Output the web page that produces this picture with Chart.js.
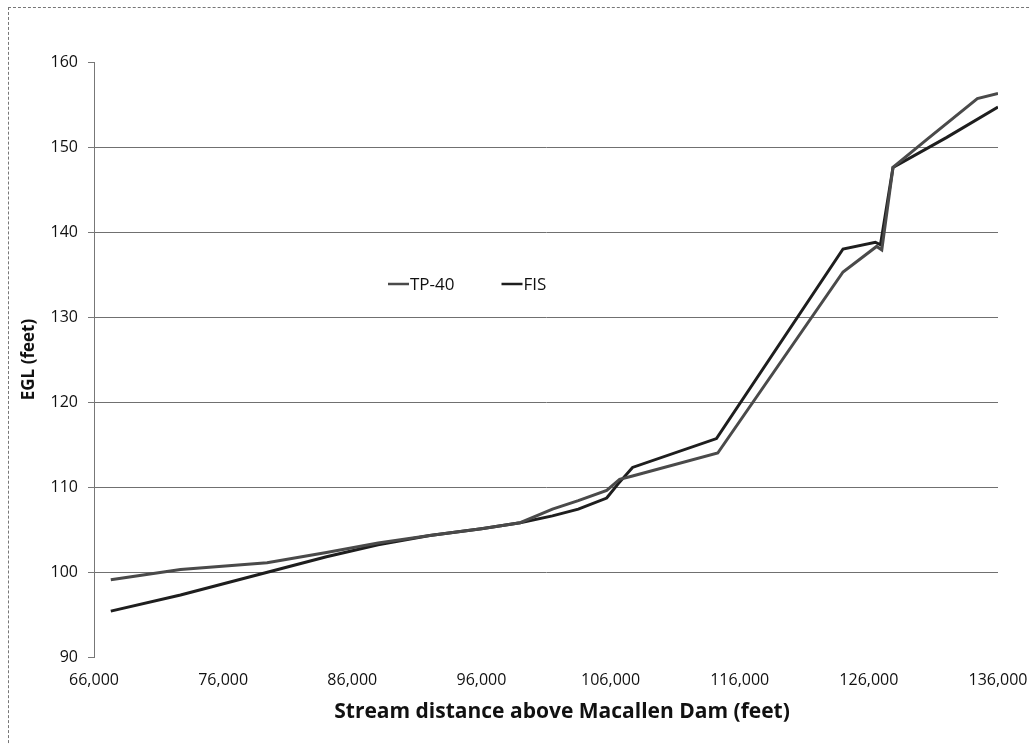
<!DOCTYPE html>
<html>
<head>
<meta charset="utf-8">
<script src="https://cdn.jsdelivr.net/npm/chart.js@4.4.1/dist/chart.umd.min.js"></script>
<style>
  html, body { margin: 0; padding: 0; background: #fff; }
  #wrap { position: relative; width: 1030px; height: 744px; }
  #frame { position: absolute; left: 8px; top: 7px; width: 1040px; height: 760px;
           border-left: 1px dashed #777; border-top: 1px dashed #777; }
  canvas { position: absolute; left: 0; top: 0; }
</style>
</head>
<body>
<div id="wrap">
  <div id="frame"></div>
  <canvas id="c" width="1030" height="744"></canvas>
</div>
<script>
// Stream distance (feet) and energy grade line elevation (feet) for each profile
const tp40Distance = [67300, 72700, 79400, 84000, 88000, 92000, 96000, 99000, 101500, 103500, 105700, 106700, 107700, 114300, 124000, 126600, 127000, 127870, 130500, 134400, 136000];
const tp40Egl      = [99.1, 100.3, 101.1, 102.3, 103.4, 104.3, 105.1, 105.8, 107.4, 108.4, 109.6, 110.9, 111.3, 114.0, 135.3, 138.3, 137.9, 147.6, 150.9, 155.7, 156.3];

const fisDistance = [67300, 72700, 79500, 84000, 88000, 92000, 96000, 99000, 101500, 103500, 105700, 106600, 107700, 114200, 124000, 126500, 126900, 127870, 132000, 136000];
const fisEgl      = [95.4, 97.3, 100.0, 101.8, 103.2, 104.3, 105.1, 105.8, 106.6, 107.4, 108.7, 110.4, 112.3, 115.7, 138.0, 138.8, 138.5, 147.6, 151.1, 154.7];

const seriesNames = ['TP-40', 'FIS'];
const xTicks = { min: 66000, max: 136000, step: 10000 };
const yTicks = { min: 90, max: 160, step: 10 };
const xTitle = 'Stream distance above Macallen Dam (feet)';
const yTitle = 'EGL (feet)';

const toPoints = (xs, ys) => xs.map((x, i) => ({ x: x, y: ys[i] }));

// Legend drawn inside the plot area, to the left of the rising section
const innerLegend = {
  id: 'innerLegend',
  afterDatasetsDraw(chart) {
    const ctx = chart.ctx;
    const area = chart.chartArea;
    let x = area.left + 294;
    const y = area.top + 222;
    ctx.save();
    ctx.font = '17px "Open Sans", Lato, sans-serif';
    ctx.textBaseline = 'middle';
    chart.data.datasets.forEach(ds => {
      ctx.strokeStyle = ds.borderColor;
      ctx.lineWidth = 2.5;
      ctx.beginPath();
      ctx.moveTo(x, y);
      ctx.lineTo(x + 21, y);
      ctx.stroke();
      ctx.fillStyle = '#111';
      ctx.fillText(ds.label, x + 22, y + 1);
      x += 22 + ctx.measureText(ds.label).width + 47;
    });
    ctx.restore();
  }
};

// Distance axis caption, set slightly right of the plot centre
const xCaption = {
  id: 'xCaption',
  afterDraw(chart) {
    const ctx = chart.ctx;
    const area = chart.chartArea;
    ctx.save();
    ctx.font = 'bold 21px "Open Sans", Lato, sans-serif';
    ctx.fillStyle = '#111';
    ctx.textAlign = 'center';
    ctx.textBaseline = 'middle';
    ctx.fillText(xTitle, (area.left + area.right) / 2 + 16, area.bottom + 55);
    ctx.restore();
  }
};

new Chart(document.getElementById('c'), {
  type: 'line',
  data: {
    datasets: [
      { label: seriesNames[0], data: toPoints(tp40Distance, tp40Egl), borderColor: '#4a4a4a', borderWidth: 3, pointRadius: 0, tension: 0 },
      { label: seriesNames[1], data: toPoints(fisDistance, fisEgl), borderColor: '#1e1e1e', borderWidth: 3, pointRadius: 0, tension: 0 }
    ]
  },
  options: {
    responsive: false,
    animation: false,
    layout: { padding: { left: 0, top: 62, right: 32, bottom: 0 } },
    plugins: { legend: { display: false }, tooltip: { enabled: false } },
    scales: {
      x: {
        type: 'linear',
        min: xTicks.min, max: xTicks.max,
        afterFit(scale) { scale.height = 87; },
        ticks: {
          stepSize: xTicks.step,
          padding: 0,
          color: '#111',
          font: { family: '"Open Sans", Lato, sans-serif', size: 16 },
          maxRotation: 0,
          callback: v => v.toLocaleString('en-US')
        },
        grid: { drawOnChartArea: false, drawTicks: true, tickLength: 14, tickColor: 'rgba(0,0,0,0)', color: 'rgba(0,0,0,0)' },
        border: { display: false },
        title: { display: false, text: xTitle }
      },
      y: {
        type: 'linear',
        min: yTicks.min, max: yTicks.max,
        afterFit(scale) { scale.width = 94; },
        ticks: {
          stepSize: yTicks.step,
          padding: 10,
          color: '#111',
          font: { family: '"Open Sans", sans-serif', size: 16 }
        },
        grid: {
          color: c => (c.tick && c.tick.value >= 100 && c.tick.value <= 150) ? '#707070' : 'rgba(0,0,0,0)',
          lineWidth: 1,
          tickLength: 6,
          tickColor: '#777'
        },
        border: { display: true, color: '#777', width: 1 },
        title: {
          display: true,
          text: yTitle,
          color: '#111',
          font: { family: '"Open Sans", Lato, sans-serif', size: 17, weight: 'bold' },
          padding: { top: 19, bottom: 0 }
        }
      }
    }
  },
  plugins: [innerLegend, xCaption]
});
</script>
</body>
</html>
